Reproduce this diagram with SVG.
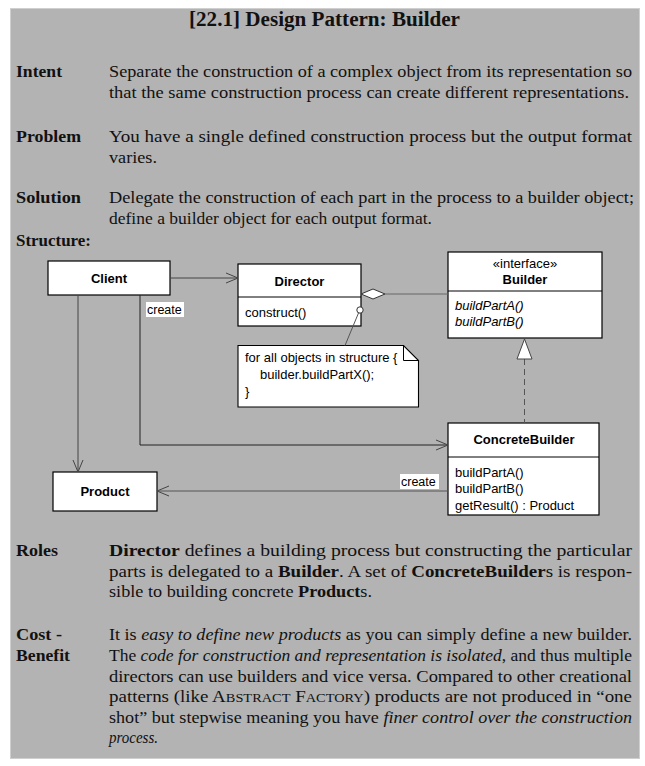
<svg xmlns="http://www.w3.org/2000/svg" width="645" height="766" viewBox="0 0 645 766">
<defs>
<style>
.t{font-family:"Liberation Serif",serif;font-size:16.5px;fill:#111}
.b{font-weight:bold}
.i{font-style:italic}
.s{font-family:"Liberation Sans",Arial,sans-serif;font-size:13px;fill:#000}
.box{fill:#fff;stroke:#000;stroke-width:1.2}
.ln{fill:none;stroke:#444;stroke-width:1}
.sc{font-size:12.5px}
</style>
<marker id="open" markerWidth="14" markerHeight="12" refX="12" refY="6" orient="auto" markerUnits="userSpaceOnUse">
<path d="M0,1 L12,6 L0,11" fill="none" stroke="#444" stroke-width="1"/>
</marker>
</defs>
<rect x="0" y="0" width="645" height="766" fill="#fff"/>
<rect x="10.5" y="8.5" width="629" height="750" fill="#b3b3b3" stroke="#cfcfcf" stroke-width="1"/>

<g id="text">
<text x="189" y="26" class="t b" style="font-size:20px" textLength="271" lengthAdjust="spacingAndGlyphs">[22.1] Design Pattern: Builder</text>

<text x="16" y="77" class="t b" textLength="46" lengthAdjust="spacingAndGlyphs">Intent</text>
<text x="109" y="77" class="t" textLength="523" lengthAdjust="spacingAndGlyphs">Separate the construction of a complex object from its representation so</text>
<text x="109" y="97.5" class="t" textLength="520" lengthAdjust="spacingAndGlyphs">that the same construction process can create different representations.</text>

<text x="16" y="142" class="t b" textLength="65" lengthAdjust="spacingAndGlyphs">Problem</text>
<text x="109" y="142" class="t" textLength="523" lengthAdjust="spacingAndGlyphs">You have a single defined construction process but the output format</text>
<text x="109" y="162.5" class="t" textLength="48" lengthAdjust="spacingAndGlyphs">varies.</text>

<text x="16" y="203" class="t b" textLength="65" lengthAdjust="spacingAndGlyphs">Solution</text>
<text x="109" y="203" class="t" textLength="525" lengthAdjust="spacingAndGlyphs">Delegate the construction of each part in the process to a builder object;</text>
<text x="109" y="223.5" class="t" textLength="323" lengthAdjust="spacingAndGlyphs">define a builder object for each output format.</text>

<text x="16" y="246" class="t b" textLength="75" lengthAdjust="spacingAndGlyphs">Structure:</text>

<text x="16" y="556" class="t b" textLength="42" lengthAdjust="spacingAndGlyphs">Roles</text>
<text x="109" y="556" class="t" textLength="523" lengthAdjust="spacingAndGlyphs"><tspan class="b">Director</tspan> defines a building process but constructing the particular</text>
<text x="109" y="576.5" class="t" textLength="523" lengthAdjust="spacingAndGlyphs">parts is delegated to a <tspan class="b">Builder</tspan>.  A set of <tspan class="b">ConcreteBuilder</tspan>s is respon-</text>
<text x="109" y="597" class="t" textLength="263" lengthAdjust="spacingAndGlyphs">sible to building concrete <tspan class="b">Product</tspan>s.</text>

<text x="16" y="640" class="t b" textLength="46" lengthAdjust="spacingAndGlyphs">Cost -</text>
<text x="16" y="661" class="t b" textLength="54" lengthAdjust="spacingAndGlyphs">Benefit</text>
<text x="109" y="640" class="t" textLength="523" lengthAdjust="spacingAndGlyphs">It is <tspan class="i">easy to define new products</tspan> as you can simply define a new builder.</text>
<text x="109" y="661" class="t" textLength="523" lengthAdjust="spacingAndGlyphs">The <tspan class="i">code for construction and representation is isolated</tspan>, and thus multiple</text>
<text x="109" y="681.5" class="t" textLength="523" lengthAdjust="spacingAndGlyphs">directors can use builders and vice versa. Compared to other creational</text>
<text x="109" y="702" class="t" textLength="523" lengthAdjust="spacingAndGlyphs">patterns (like A<tspan class="sc">BSTRACT</tspan> F<tspan class="sc">ACTORY</tspan>) products are not produced in “one</text>
<text x="109" y="722.5" class="t" textLength="523" lengthAdjust="spacingAndGlyphs">shot” but stepwise meaning you have <tspan class="i">finer control over the construction</tspan></text>
<text x="109" y="743" class="t i" textLength="49" lengthAdjust="spacingAndGlyphs">process.</text>
</g>

<g id="client">
<rect class="box" x="48" y="261" width="122" height="34"/>
<text x="109" y="283" class="s b" text-anchor="middle">Client</text>
</g>

<g id="director">
<rect class="box" x="238" y="264" width="123" height="62"/>
<line x1="238" y1="297" x2="361" y2="297" stroke="#000" stroke-width="1"/>
<text x="299.5" y="285.5" class="s b" text-anchor="middle">Director</text>
<text x="245" y="317" class="s">construct()</text>
</g>

<g id="note">
<path d="M238,345.5 H403.5 L418.5,360.5 V407 H238 Z" fill="#fff" stroke="#000" stroke-width="1.1"/>
<path d="M403.5,345.5 V360.5 H418.5" fill="none" stroke="#000" stroke-width="1"/>
<text x="245" y="361.5" class="s">for all objects in structure {</text>
<text x="260" y="378.5" class="s">builder.buildPartX();</text>
<text x="245" y="395.5" class="s">}</text>
</g>

<g id="builder">
<rect class="box" x="448" y="252" width="154" height="86"/>
<line x1="448" y1="291" x2="602" y2="291" stroke="#000" stroke-width="1"/>
<text x="525" y="268" class="s" text-anchor="middle">«interface»</text>
<text x="525" y="284" class="s b" text-anchor="middle">Builder</text>
<text x="455" y="310" class="s i">buildPartA()</text>
<text x="455" y="326" class="s i">buildPartB()</text>
</g>

<g id="concretebuilder">
<rect class="box" x="448" y="423" width="151" height="92"/>
<line x1="448" y1="457" x2="599" y2="457" stroke="#000" stroke-width="1"/>
<text x="524" y="444" class="s b" text-anchor="middle">ConcreteBuilder</text>
<text x="455" y="477" class="s">buildPartA()</text>
<text x="455" y="493" class="s">buildPartB()</text>
<text x="455" y="510" class="s">getResult() : Product</text>
</g>

<g id="product">
<rect class="box" x="53" y="472" width="104" height="39"/>
<text x="105" y="496" class="s b" text-anchor="middle">Product</text>
</g>

<g id="connectors">
<path class="ln" d="M170,278 H238" marker-end="url(#open)"/>
<path class="ln" d="M78,295 V472" stroke="#666" marker-end="url(#open)"/>
<path class="ln" d="M140,295 V445 H448" style="stroke:#222" marker-end="url(#open)"/>
<path class="ln" d="M448,491 H157" style="stroke:#555" marker-end="url(#open)"/>
<path class="ln" d="M385,294 H448" style="stroke:#666"/>
<path d="M361,294 L373,289 L385,294 L373,299 Z" fill="#fff" stroke="#333" stroke-width="1"/>
<path class="ln" d="M358.5,313 L345,345.5" style="stroke:#555"/>
<circle cx="360" cy="310" r="3.2" fill="#fff" stroke="#333" stroke-width="1"/>
<path class="ln" d="M524.5,359 V423" style="stroke:#555" stroke-dasharray="6,4"/>
<path d="M524.5,339 L517,359 H532 Z" fill="#fff" stroke="#444" stroke-width="1"/>
<rect x="146" y="302" width="38" height="15" fill="#fff"/>
<text x="147" y="313.5" class="s" style="font-size:12.5px">create</text>
<rect x="400" y="474" width="39" height="15" fill="#fff"/>
<text x="401" y="486" class="s" style="font-size:12.5px">create</text>
</g>
</svg>
